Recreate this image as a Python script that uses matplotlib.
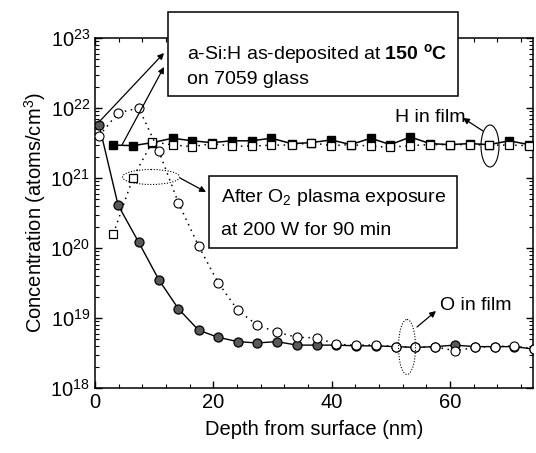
import numpy as np
import matplotlib
matplotlib.use("Agg")
import matplotlib.pyplot as plt
import matplotlib.transforms as mtransforms
from matplotlib.patches import Rectangle, Ellipse, FancyArrowPatch
from matplotlib.ticker import MultipleLocator, LogLocator

plt.rcParams['font.family'] = ['Liberation Sans', 'DejaVu Sans']
plt.rcParams['mathtext.fontset'] = 'custom'
plt.rcParams['mathtext.rm'] = 'Liberation Sans'
plt.rcParams['mathtext.bf'] = 'Liberation Sans:bold'
plt.rcParams['mathtext.it'] = 'Liberation Sans:italic'

# O profiles (depth in nm, concentration in atoms/cm3)
depth_O = [0.7, 3.9, 7.4, 10.8, 14.1, 17.5, 20.8, 24.1, 27.4, 30.7, 34.1, 37.5,
           40.8, 44.1, 47.4, 50.8, 54.1, 57.4, 60.8, 64.2, 67.5, 70.8, 74.1]
O_asdep = [5.7e21, 4.1e20, 1.2e20, 3.5e19, 1.35e19, 6.7e18, 5.3e18, 4.6e18, 4.4e18,
           4.6e18, 4.1e18, 4.1e18, 4.1e18, 4.0e18, 4.0e18, 3.9e18, 3.8e18, 3.9e18,
           4.1e18, 3.9e18, 3.9e18, 3.9e18, 3.6e18]
O_plasma = [4.0e21, 8.5e21, 1.0e22, 2.4e21, 4.4e20, 1.07e20, 3.2e19, 1.3e19, 7.9e18,
            6.3e18, 5.3e18, 5.2e18, 4.2e18, 4.1e18, 4.1e18, 3.9e18, 3.8e18, 3.9e18,
            3.4e18, 3.8e18, 3.9e18, 4.0e18, 3.6e18]

# H profiles
depth_H = [3.1, 6.4, 9.7, 13.1, 16.4, 19.8, 23.1, 26.5, 29.8, 33.2, 36.5, 39.9,
           43.2, 46.6, 49.9, 53.3, 56.6, 59.9, 63.3, 66.6, 70.0, 73.3]
H_asdep = [2.95e21, 2.9e21, 3.2e21, 3.7e21, 3.4e21, 3.2e21, 3.4e21, 3.4e21, 3.7e21,
           3.1e21, 3.2e21, 3.5e21, 3.0e21, 3.7e21, 3.0e21, 3.85e21, 3.1e21, 3.0e21,
           3.1e21, 3.0e21, 3.4e21, 3.0e21]
H_plasma = [1.6e20, 1.0e21, 3.3e21, 2.97e21, 2.8e21, 3.1e21, 2.85e21, 2.85e21, 2.95e21,
            2.95e21, 3.2e21, 2.9e21, 3.0e21, 2.85e21, 2.75e21, 2.9e21, 3.0e21, 3.0e21,
            3.0e21, 2.95e21, 2.95e21, 2.9e21]

W, H = 536, 453
fig = plt.figure(figsize=(W / 100, H / 100), dpi=100)
ax = fig.add_axes([95 / W, (H - 388) / H, (533 - 95) / W, (388 - 38) / H])

dots = (0, (1, 3))
ax.plot(depth_H, H_asdep, '-', color='k', lw=1.1, marker='s', ms=6,
        mfc='k', mec='k', zorder=3)
ax.plot(depth_H, H_plasma, linestyle=dots, color='k', lw=1.1, marker='s', ms=6,
        mfc='white', mec='k', mew=0.9, zorder=4)
ax.plot(depth_O, O_asdep, '-', color='k', lw=1.0, marker='o', ms=6.5,
        mfc='0.35', mec='k', mew=0.9, zorder=3)
ax.plot(depth_O, O_plasma, linestyle=dots, color='k', lw=1.1, marker='o', ms=6.5,
        mfc='white', mec='k', mew=0.8, zorder=4)

ax.set_yscale('log')
ax.set_xlim(0, 74)
ax.set_ylim(1e18, 1e23)
ax.xaxis.set_major_locator(MultipleLocator(20))
ax.xaxis.set_minor_locator(MultipleLocator(4))
ax.yaxis.set_major_locator(LogLocator(base=10, numticks=10))
ax.yaxis.set_minor_locator(LogLocator(base=10, subs=np.arange(2, 10), numticks=20))
ax.tick_params(which='both', direction='in', top=True, right=True, labelsize=14.5)
ax.tick_params(which='major', length=5, width=1)
ax.tick_params(which='minor', length=3, width=0.8)
ax.set_xlabel('Depth from surface (nm)', fontsize=14.5, labelpad=6)
ax.set_ylabel('Concentration (atoms/cm$^3$)', fontsize=14.5, labelpad=2)
for s in ax.spines.values():
    s.set_linewidth(1.1)

# pixel coordinates (origin top-left) for annotations
px = mtransforms.Affine2D().scale(1 / W, -1 / H).translate(0, 1) + fig.transFigure

fs = 14
fig.add_artist(Rectangle((168, 12), 290, 84, transform=px, fc='white',
                         ec='k', lw=1.1, zorder=5))
fig.text(187 / W, 1 - 54 / H, r'a-Si:H as-deposited at $\mathbf{150\ ^{o}C}$',
         fontsize=fs, va='center', ha='left', zorder=6)
fig.text(187 / W, 1 - 80 / H, 'on 7059 glass', fontsize=fs, va='center',
         ha='left', zorder=6)

fig.add_artist(Rectangle((209, 176), 248, 72, transform=px, fc='white',
                         ec='k', lw=1.1, zorder=5))
fig.text(221 / W, 1 - 198 / H, 'After O$_2$ plasma exposure', fontsize=fs,
         va='center', ha='left', zorder=6)
fig.text(221 / W, 1 - 230 / H, 'at 200 W for 90 min', fontsize=fs,
         va='center', ha='left', zorder=6)

fig.text(395 / W, 1 - 118 / H, 'H in film', fontsize=fs, va='center', ha='left')
fig.text(440 / W, 1 - 305 / H, 'O in film', fontsize=fs, va='center', ha='left')

fig.add_artist(Ellipse((151, 177), 57, 15, transform=px, fill=False, ec='k',
                       lw=0.8, ls=(0, (1, 1.5)), zorder=6))
fig.add_artist(Ellipse((490, 146), 18, 42, transform=px, fill=False, ec='k',
                       lw=0.8, zorder=6))
fig.add_artist(Ellipse((407, 347), 17, 55, transform=px, fill=False, ec='k',
                       lw=0.8, ls=(0, (1, 1.5)), zorder=6))

arrows = [((99, 122), (164, 53)), ((122, 145), (164, 67)),
          ((180, 178), (206, 192)), ((483, 131), (463, 118)),
          ((417, 327), (436, 311))]
for a, b in arrows:
    fig.add_artist(FancyArrowPatch(a, b, transform=px, arrowstyle='-|>',
                                   mutation_scale=9, lw=0.9, color='k',
                                   shrinkA=0, shrinkB=0, zorder=7))

fig.savefig('out.png', dpi=100)
